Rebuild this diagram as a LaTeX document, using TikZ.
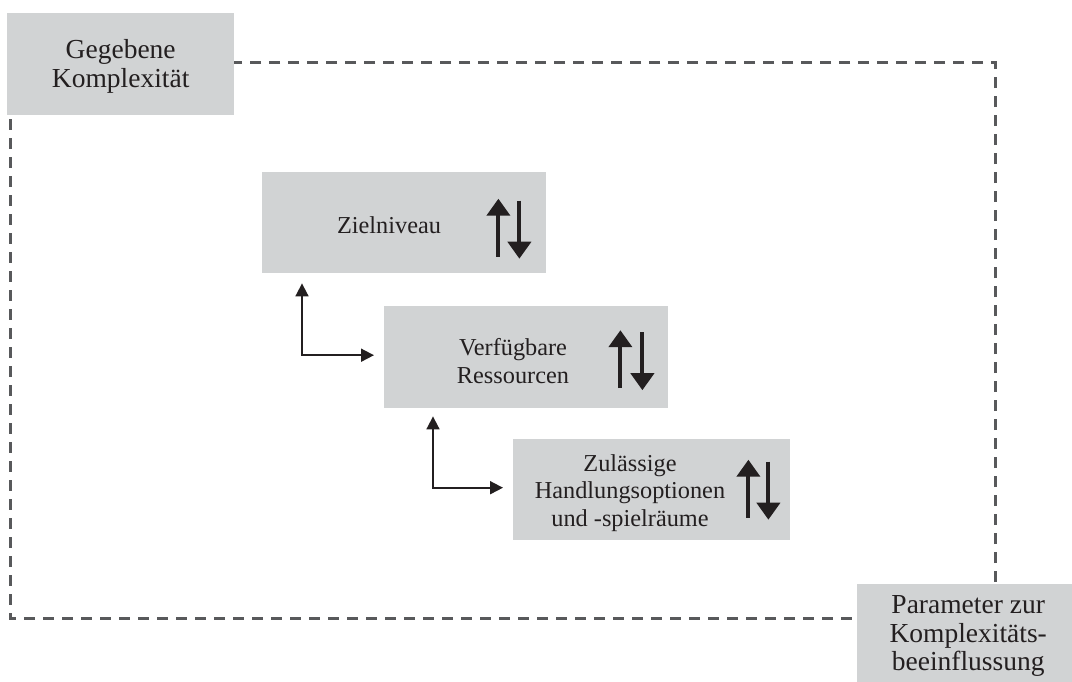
\documentclass[tikz,border=0pt]{standalone}
\usepackage{fontspec}
\setmainfont{Liberation Serif}
\usetikzlibrary{arrows.meta,calc}
\definecolor{boxgray}{HTML}{D1D3D4}
\definecolor{dashgray}{HTML}{58595B}
\definecolor{ink}{HTML}{231F20}
\tikzset{
  panel/.style={fill=boxgray, draw=none, inner sep=0pt, anchor=north west},
  cornertext/.style={font=\fontsize{27.5}{28.5}\selectfont, align=center, text=ink, inner sep=0pt},
  innertext/.style={font=\fontsize{24.3}{27.5}\selectfont, align=center, text=ink, inner sep=0pt},
  frame/.style={draw=dashgray, line width=3pt, dash pattern=on 11pt off 8pt},
  conn/.style={draw=ink, line width=1.8pt, {Triangle[width=13pt,length=13pt]}-{Triangle[width=13pt,length=13pt]}},
  bigarrow/.style={draw=ink, line width=4pt, -{Triangle[width=23pt,length=17pt]}}
}
% up/down arrow pair beside a panel's right edge; #2, #3 = x offsets of the two arrows
\newcommand\updownpair[3]{%
  \draw[bigarrow] ($(#1)+(#2,28)$) -- ($(#1)+(#2,-30)$);
  \draw[bigarrow] ($(#1)+(#3,-28)$) -- ($(#1)+(#3,30)$);
}
\begin{document}
\begin{tikzpicture}[x=1pt,y=-1pt]
\useasboundingbox (0,0) rectangle (1072,681);

% dashed frame of the given complexity
\draw[frame] (10,62) rectangle (995,618);

% corner panels
\node[panel, minimum width=227pt, minimum height=102pt] (tl) at (7,13) {};
\node[cornertext] (tltext) at ($(tl.center)+(0,2)$) {Gegebene\\Komplexität};
\node[panel, minimum width=216pt, minimum height=98pt] (br) at (857,584) {};
\node[cornertext] (brtext) at ($(br.center)+(3,3)$) {Parameter zur\\Komplexitäts-\\beeinflussung};

% parameter panels
\node[panel, minimum width=284pt, minimum height=101pt] (z) at (262,172) {};
\node[innertext] (ztext) at (389,225) {Zielniveau};
\node[panel, minimum width=284pt, minimum height=102pt] (v) at (384,306) {};
\node[innertext] (vtext) at (513,361) {Verfügbare\\Ressourcen};
\node[panel, minimum width=277pt, minimum height=101pt] (h) at (513,439) {};
\node[innertext] (htext) at (630,493) {Zulässige\\Handlungsoptionen\\und -spielräume};

% up/down arrows inside the panels
\updownpair{$(z.east)+(0,6)$}{-48}{-27}
\updownpair{$(v.east)+(0,3)$}{-48}{-26}
\updownpair{h.east}{-42}{-22}

% elbow connectors between the panels
\draw[conn] ([xshift=40pt,yshift=-10pt]z.south west) |- ([xshift=-10pt,yshift=2pt]v.west);
\draw[conn] ([xshift=49pt,yshift=-8pt]v.south west) |- ([xshift=-10pt,yshift=2pt]h.west);
\end{tikzpicture}
\end{document}
